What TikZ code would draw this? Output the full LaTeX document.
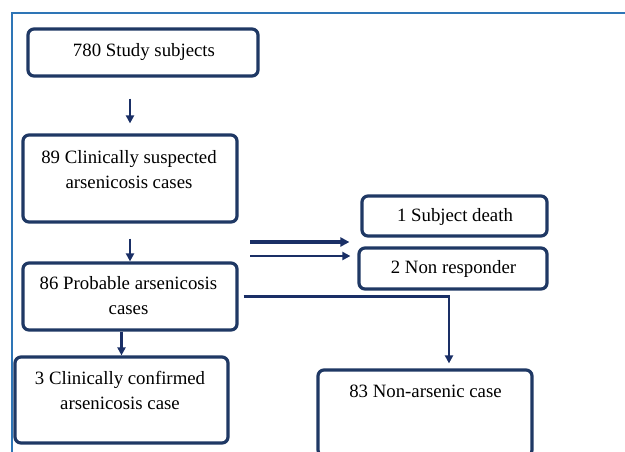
\documentclass[tikz,border=0pt]{standalone}
\usepackage{fontspec}
\setmainfont{Liberation Serif}
\usetikzlibrary{arrows.meta}
\definecolor{navy}{HTML}{1F3864}
\definecolor{arrowc}{HTML}{1A2F66}
\definecolor{frameblue}{HTML}{2E75B6}
\tikzset{
  box/.style={draw=navy, line width=3.2pt, rounded corners=6pt, fill=white, inner sep=0pt},
  txt/.style={anchor=base, align=center, inner sep=0pt, font=\fontsize{18.8}{25}\selectfont, text=black},
  arr/.style={draw=arrowc, line width=2.4pt, -{Triangle[length=8pt,width=8pt]}},
  thickarr/.style={draw=arrowc, line width=3.6pt, -{Triangle[length=9pt,width=9pt]}},
}
\begin{document}
\begin{tikzpicture}[x=1pt,y=-1pt]
\useasboundingbox (0,0) rectangle (625,451);
\fill[white] (0,0) rectangle (625,451);
% frame
\draw[frameblue, line width=2.2pt] (630,13) -- (12,13) -- (12,460);
% boxes
\node[box, minimum width=230pt, minimum height=47pt] (b1) at (143,52.5) {};
\node[box, minimum width=214pt, minimum height=87pt] (b2) at (130,178.5) {};
\node[box, minimum width=214pt, minimum height=67pt] (b3) at (130,296.5) {};
\node[box, minimum width=213pt, minimum height=86pt] (b4) at (121.5,400) {};
\node[box, minimum width=185pt, minimum height=40pt] (sd) at (454.5,216) {};
\node[box, minimum width=188pt, minimum height=41pt] (nr) at (453,268.5) {};
\node[box, minimum width=214pt, minimum height=86pt] (b83) at (425,413) {};
% texts
\node[txt] (t1) at (144,56) {780 Study subjects};
\node[txt] (t2) at (129,188) {89 Clinically suspected\\arsenicosis cases};
\node[txt] (t3) at (128.5,314) {86 Probable arsenicosis\\cases};
\node[txt] (t4) at (120,409) {3 Clinically confirmed\\arsenicosis case};
\node[txt] (tsd) at (455,221) {1 Subject death};
\node[txt] (tnr) at (453.5,273) {2 Non responder};
\node[txt] (t83) at (425.5,397) {83 Non-arsenic case};
% connectors
\draw[arr, shorten <=21pt, shorten >=10pt] (b2.north |- b1.south) -- (b2.north);
\draw[arr, shorten <=15pt] (b2.south) -- (b3.north);
\draw[arr] (b4.north |- b3.south) -- (b4.north);
\coordinate (s1) at (250,242);
\coordinate (s2) at (250,256);
\draw[thickarr, shorten >=8pt] (s1) -- (s1 -| nr.west);
\draw[arr, shorten >=7pt] (s2) -- (s2 -| nr.west);
\draw[arr, shorten <=5pt, shorten >=5pt] (b3.east) -| ([xshift=24pt]b83.north);
\end{tikzpicture}
\end{document}
